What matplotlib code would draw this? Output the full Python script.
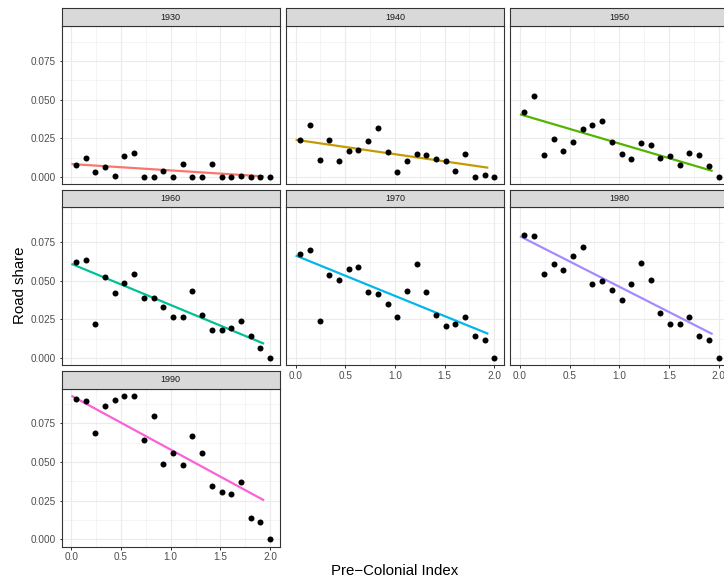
import matplotlib
matplotlib.use("Agg")
import matplotlib.pyplot as plt
from matplotlib.ticker import MultipleLocator

plt.rcParams['font.family'] = ['Liberation Sans', 'DejaVu Sans']

decades = ["1930", "1940", "1950", "1960", "1970", "1980", "1990"]
colors = ["#F8766D", "#C49A00", "#53B400", "#00C094", "#00B6EB", "#A58AFF", "#FB61D7"]

precolonial_index = [0.045, 0.143, 0.241, 0.338, 0.436, 0.534, 0.632, 0.729, 0.827, 0.925,
                     1.023, 1.120, 1.218, 1.316, 1.414, 1.511, 1.609, 1.707, 1.805, 1.902, 2.000]

share_1930 = [0.0080, 0.0123, 0.0032, 0.0062, 0.0009, 0.0135, 0.0155, 0.0, 0.0, 0.0039,
              0.0, 0.0082, 0.0, 0.0, 0.0084, 0.0, 0.0, 0.0009, 0.0, 0.0, 0.0]
share_1940 = [0.0241, 0.0337, 0.0107, 0.0239, 0.0101, 0.0168, 0.0176, 0.0230, 0.0316, 0.0159,
              0.0030, 0.0101, 0.0150, 0.0144, 0.0118, 0.0101, 0.0039, 0.0146, 0.0002, 0.0011, 0.0002]
share_1950 = [0.0419, 0.0522, 0.0140, 0.0243, 0.0166, 0.0226, 0.0312, 0.0337, 0.0363, 0.0226,
              0.0146, 0.0118, 0.0221, 0.0209, 0.0120, 0.0138, 0.0077, 0.0155, 0.0140, 0.0069, 0.0]
share_1960 = [0.0619, 0.0636, 0.0220, 0.0528, 0.0420, 0.0485, 0.0545, 0.0390, 0.0390, 0.0328,
              0.0265, 0.0265, 0.0435, 0.0276, 0.0185, 0.0185, 0.0196, 0.0241, 0.0140, 0.0067, 0.0]
share_1970 = [0.0672, 0.0700, 0.0239, 0.0539, 0.0506, 0.0575, 0.0588, 0.0429, 0.0414, 0.0347,
              0.0267, 0.0433, 0.0610, 0.0429, 0.0282, 0.0205, 0.0220, 0.0263, 0.0140, 0.0114, 0.0]
share_1980 = [0.0795, 0.0789, 0.0543, 0.0612, 0.0569, 0.0662, 0.0716, 0.0481, 0.0496, 0.0440,
              0.0373, 0.0481, 0.0614, 0.0504, 0.0291, 0.0222, 0.0222, 0.0265, 0.0140, 0.0116, 0.0]
share_1990 = [0.0909, 0.0894, 0.0688, 0.0864, 0.0899, 0.0925, 0.0927, 0.0640, 0.0800, 0.0489,
              0.0558, 0.0481, 0.0668, 0.0558, 0.0343, 0.0306, 0.0291, 0.0373, 0.0140, 0.0114, 0.0]

# linear trend endpoints (at x = 0 and x = 1.94)
trend_x = [0.0, 1.94]
trend_start = [0.0084, 0.0241, 0.0406, 0.0610, 0.0664, 0.0789, 0.0929]
trend_end = [0.0004, 0.0060, 0.0039, 0.0093, 0.0157, 0.0155, 0.0252]

shares = [share_1930, share_1940, share_1950, share_1960, share_1970, share_1980, share_1990]

x_ticks = [0.0, 0.5, 1.0, 1.5, 2.0]
x_ticklabels = ["0.0", "0.5", "1.0", "1.5", "2.0"]
y_ticks = [0.0, 0.025, 0.05, 0.075]
y_ticklabels = ["0.000", "0.025", "0.050", "0.075"]

W, H = 724, 584
fig = plt.figure(figsize=(W / 72, H / 72), dpi=72)

col_left = [61.5, 285.7, 510.0]
panel_w = 218.5
rows = [(8.3, 26.2, 184.2), (189.5, 207.3, 365.3), (370.7, 388.5, 546.5)]

def fig_rect(x0, y0, x1, y1):
    return [x0 / W, 1 - y1 / H, (x1 - x0) / W, (y1 - y0) / H]

border = "#333333"
for i, dec in enumerate(decades):
    r, c = divmod(i, 3)
    s_top, p_top, p_bot = rows[r]
    x0 = col_left[c]
    ax = fig.add_axes(fig_rect(x0, p_top, x0 + panel_w, p_bot))
    ax.set_xlim(-0.1, 2.1)
    ax.set_ylim(-0.00465, 0.0976)
    ax.xaxis.set_major_locator(MultipleLocator(0.5))
    ax.xaxis.set_minor_locator(MultipleLocator(0.25))
    ax.yaxis.set_major_locator(MultipleLocator(0.025))
    ax.yaxis.set_minor_locator(MultipleLocator(0.0125))
    ax.grid(which="major", color="#EBEBEB", lw=1.1)
    ax.grid(which="minor", color="#EBEBEB", lw=0.55)
    ax.set_axisbelow(True)
    for sp in ax.spines.values():
        sp.set_color(border)
        sp.set_linewidth(1.1)
    ax.plot(trend_x, [trend_start[i], trend_end[i]], color=colors[i], lw=2.2,
            solid_capstyle="butt", zorder=2)
    ax.scatter(precolonial_index, shares[i], s=36, color="black", zorder=3, linewidths=0)
    ax.tick_params(which="minor", length=0)
    ax.tick_params(which="major", length=2.5, width=1.0, color=border,
                   labelsize=10, labelcolor="#4D4D4D", pad=2.8)
    show_x = (dec in ("1970", "1980", "1990"))
    show_y = (c == 0)
    ax.set_xticks(x_ticks)
    ax.set_yticks(y_ticks)
    if show_x:
        ax.set_xticklabels(x_ticklabels)
    else:
        ax.tick_params(axis="x", which="both", length=0, labelbottom=False)
    if show_y:
        ax.set_yticklabels(y_ticklabels)
    else:
        ax.tick_params(axis="y", which="both", length=0, labelleft=False)
    # strip
    sax = fig.add_axes(fig_rect(x0, s_top, x0 + panel_w, p_top))
    sax.set_facecolor("#D9D9D9")
    sax.set_xticks([])
    sax.set_yticks([])
    for sp in sax.spines.values():
        sp.set_color(border)
        sp.set_linewidth(1.1)
    sax.text(0.5, 0.5, dec, ha="center", va="center", fontsize=9,
             color="#1A1A1A", transform=sax.transAxes)

fig.text(20 / W, 1 - 285 / H, "Road share", rotation=90, ha="center", va="center",
         fontsize=15, color="black")
fig.text(395 / W, 1 - 571 / H, "Pre\u2212Colonial Index", ha="center", va="center",
         fontsize=15, color="black")

fig.savefig("out.png", dpi=72, facecolor="white")
